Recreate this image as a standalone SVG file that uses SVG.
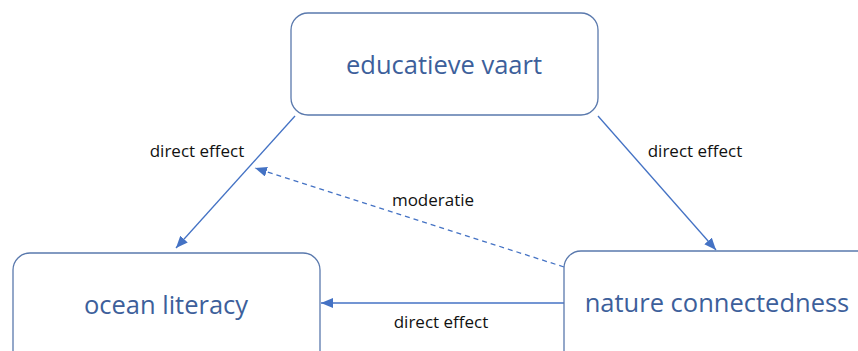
<svg xmlns="http://www.w3.org/2000/svg" width="858" height="351" viewBox="0 0 858 351">
<style>
.box{fill:#fff;stroke:#5a79ad;stroke-width:1.3}
.big{font-family:"Open Sans","Liberation Sans",sans-serif;font-size:25.5px;fill:#3d5f9b;text-anchor:middle}
.lbl{font-family:"Open Sans","Liberation Sans",sans-serif;font-size:17px;fill:#111;text-anchor:middle}
.edge{stroke:#4472c4;stroke-width:1.3;fill:none}
.dash{stroke-dasharray:5 4}
</style>
<defs>
<marker id="ah" viewBox="0 0 12 10" refX="12" refY="5" markerWidth="12" markerHeight="10" markerUnits="userSpaceOnUse" orient="auto">
<path d="M0,0 L12,5 L0,10 Z" fill="#4472c4"/>
</marker>
</defs>
<rect width="858" height="351" fill="#fff"/>
<g id="edges">
<line class="edge" x1="295" y1="116" x2="176" y2="248" marker-end="url(#ah)"/>
<line class="edge" x1="598" y1="116" x2="716" y2="250" marker-end="url(#ah)"/>
<line class="edge dash" x1="564" y1="267" x2="255" y2="168" marker-end="url(#ah)"/>
<line class="edge" x1="564" y1="303" x2="321" y2="303" marker-end="url(#ah)"/>
<text class="lbl" x="197" y="157">direct effect</text>
<text class="lbl" x="695" y="157">direct effect</text>
<text class="lbl" x="433" y="206">moderatie</text>
<text class="lbl" x="441" y="328">direct effect</text>
</g>
<g id="educatieve-vaart">
<rect class="box" x="291" y="13" width="307" height="102" rx="17"/>
<text class="big" x="444" y="74">educatieve vaart</text>
</g>
<g id="ocean-literacy">
<rect class="box" x="13" y="253" width="307" height="120" rx="17"/>
<text class="big" x="166" y="314">ocean literacy</text>
</g>
<g id="nature-connectedness">
<rect class="box" x="564" y="251" width="320" height="120" rx="17"/>
<text class="big" x="717" y="312">nature connectedness</text>
</g>
</svg>
